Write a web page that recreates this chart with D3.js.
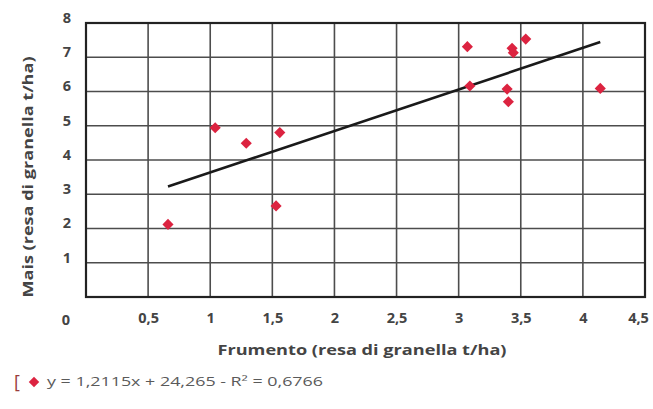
<!DOCTYPE html>
<html>
<head>
<meta charset="utf-8">
<script src="https://cdn.jsdelivr.net/npm/d3@7"></script>
<style>
  html, body { margin: 0; padding: 0; background: #fff; }
  svg { display: block; }
  text { font-family: "Open Sans", "DejaVu Sans", sans-serif; }
</style>
</head>
<body>
<svg id="chart" width="653" height="409"></svg>
<script>
// ---- data ----
const frumento = [0.66, 1.04, 1.29, 1.53, 1.56, 3.07, 3.09, 3.39, 3.40, 3.43, 3.44, 3.54, 4.14];
const mais     = [2.12, 4.94, 4.49, 2.66, 4.80, 7.31, 6.16, 6.07, 5.70, 7.26, 7.13, 7.53, 6.09];
const xTicks = [0.5, 1, 1.5, 2, 2.5, 3, 3.5, 4, 4.5];
const yTicks = [1, 2, 3, 4, 5, 6, 7, 8];
const slope = 1.2115;
const intercept = 2.4265;
const xTitle = "Frumento (resa di granella t/ha)";
const yTitle = "Mais (resa di granella t/ha)";
const legendText = "y = 1,2115x + 24,265  -  R² = 0,6766";

const svg = d3.select("#chart");
const mL = 86, mR = 645, mT = 23, mB = 297;
const x = d3.scaleLinear().domain([0, 4.5]).range([mL, mR]);
const y = d3.scaleLinear().domain([0, 8]).range([mB, mT]);
const fmt = d => String(d).replace(".", ",");
const textCol = "#444";
const red = "#dc2340";

// gridlines
const grid = svg.append("g");
grid.selectAll("line.v").data(xTicks.slice(0, -1)).join("line")
  .attr("x1", d => x(d)).attr("x2", d => x(d))
  .attr("y1", mT).attr("y2", mB)
  .attr("stroke", "#4d4d4d").attr("stroke-width", 1.6);
grid.selectAll("line.h").data(yTicks.slice(0, -1)).join("line")
  .attr("y1", d => y(d)).attr("y2", d => y(d))
  .attr("x1", mL).attr("x2", mR)
  .attr("stroke", "#4d4d4d").attr("stroke-width", 1.6);

// frame
svg.append("rect").attr("x", mL).attr("y", mT)
  .attr("width", mR - mL).attr("height", mB - mT)
  .attr("fill", "none").attr("stroke", "#222").attr("stroke-width", 2.2);

// axes (labels only)
const xAxis = svg.append("g").attr("transform", `translate(0,${mB})`)
  .call(d3.axisBottom(x).tickValues(xTicks).tickFormat(fmt).tickSize(0).tickPadding(16));
xAxis.select(".domain").remove();
xAxis.selectAll("text").attr("font-size", 14.5).attr("font-weight", "bold").attr("fill", textCol)
  .attr("dx", d => d === 4.5 ? -7 : 0);
const yAxis = svg.append("g").attr("transform", `translate(${mL},0)`)
  .call(d3.axisLeft(y).tickValues(yTicks).tickFormat(fmt).tickSize(0).tickPadding(14));
yAxis.select(".domain").remove();
yAxis.selectAll("text").attr("font-size", 14.5).attr("font-weight", "bold").attr("fill", textCol)
  .attr("dy", "-0.05em").attr("text-anchor", "middle").attr("dx", -5);
// origin label
svg.append("text").attr("x", 66).attr("y", 325).attr("text-anchor", "middle")
  .attr("font-size", 14.5).attr("font-weight", "bold").attr("fill", textCol).text("0");

// trend line
const xr = d3.extent(frumento);
svg.append("line")
  .attr("x1", x(xr[0])).attr("y1", y(slope * xr[0] + intercept))
  .attr("x2", x(xr[1])).attr("y2", y(slope * xr[1] + intercept))
  .attr("stroke", "#1a1a1a").attr("stroke-width", 2.6);

// points (square rotated 45° = diamond)
const diamond = d3.symbol().type(d3.symbolSquare).size(62);
svg.selectAll("path.pt").data(frumento).join("path")
  .attr("d", diamond)
  .attr("transform", (d, i) => `translate(${x(d)},${y(mais[i])}) rotate(45)`)
  .attr("fill", red);

// titles
svg.append("text").attr("x", 362).attr("y", 355).attr("text-anchor", "middle")
  .attr("font-size", 15).attr("font-weight", "bold").attr("fill", textCol)
  .attr("textLength", 289).attr("lengthAdjust", "spacingAndGlyphs").text(xTitle);
svg.append("text").attr("transform", "translate(33,177) rotate(-90)").attr("text-anchor", "middle")
  .attr("font-size", 15).attr("font-weight", "bold").attr("fill", textCol)
  .attr("textLength", 241).attr("lengthAdjust", "spacingAndGlyphs").text(yTitle);

// legend
svg.append("text").attr("x", 14).attr("y", 388).attr("font-size", 18)
  .attr("fill", "#9a3c3c").text("[");
svg.append("path").attr("d", d3.symbol().type(d3.symbolSquare).size(55))
  .attr("transform", "translate(34,382) rotate(45)").attr("fill", red);
svg.append("text").attr("x", 47).attr("y", 386).attr("font-size", 12.5)
  .attr("fill", "#5a5a5a").attr("textLength", 276).attr("lengthAdjust", "spacingAndGlyphs")
  .text(legendText);
</script>
</body>
</html>
